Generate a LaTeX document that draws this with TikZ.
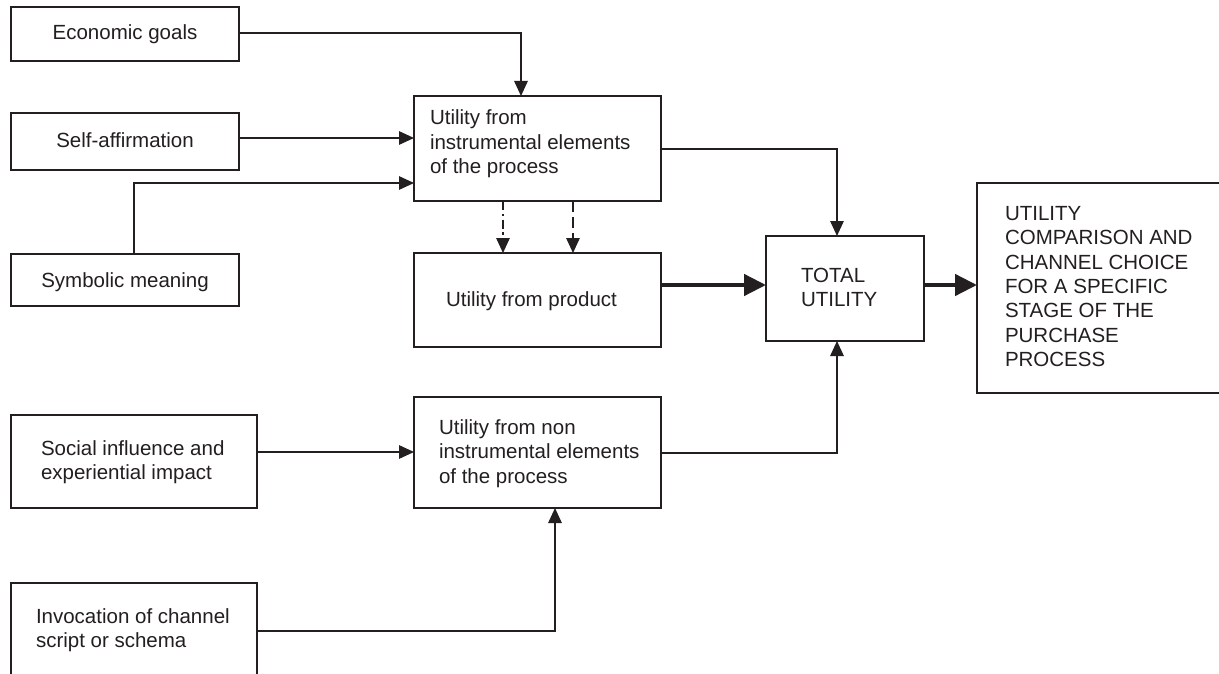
\documentclass[tikz,border=0pt]{standalone}
\usepackage{fontspec}
\setmainfont{Liberation Sans}
\usetikzlibrary{arrows.meta}
\definecolor{ink}{RGB}{35,31,32}
\newcommand{\mylines}[1]{\begin{tabular}[t]{@{}l@{}}#1\end{tabular}}
\begin{document}
\begin{tikzpicture}[x=1pt,y=-1pt,
  every node/.style={inner sep=0pt, outer sep=0pt},
  box/.style={draw=ink, line width=1.4pt, anchor=north west, rectangle},
  txt/.style={text=ink, font=\fontsize{20.5}{24.5}\selectfont},
  arr/.style={draw=ink, line width=1.3pt, -{Triangle[length=15pt,width=13.5pt]}},
  thickarr/.style={draw=ink, line width=4.5pt, -{Triangle[length=22pt,width=21pt]}},
  dashdotline/.style={dash pattern=on 9pt off 3.5pt on 2.5pt off 3.5pt},
  dashline/.style={dash pattern=on 11pt off 5pt}]
\clip (0,0) rectangle (1219,674);
\fill[white] (0,0) rectangle (1219,674);
% boxes
\node[box, minimum width=228pt, minimum height=54pt] (eco) at (11,7) {};
\node[box, minimum width=228pt, minimum height=57pt] (self) at (11,113) {};
\node[box, minimum width=228pt, minimum height=52pt] (sym) at (11,254) {};
\node[box, minimum width=246pt, minimum height=93pt] (soc) at (11,415) {};
\node[box, minimum width=246pt, minimum height=130pt] (inv) at (11,583) {};
\node[box, minimum width=247pt, minimum height=105pt] (inst) at (414,96) {};
\node[box, minimum width=247pt, minimum height=94pt] (prod) at (414,253) {};
\node[box, minimum width=247pt, minimum height=111pt] (non) at (414,397) {};
\node[box, minimum width=158pt, minimum height=105pt] (tot) at (766,236) {};
\node[box, minimum width=280pt, minimum height=210pt] (res) at (977,183) {};
% texts
\node[txt, anchor=base] (ecot) at (125,40) {Economic goals};
\node[txt, anchor=base] (selft) at (125,148) {Self-affirmation};
\node[txt, anchor=base] (symt) at (125,287) {Symbolic meaning};
\node[txt, anchor=base west] (soct) at (41,455) {\mylines{Social influence and\\experiential impact}};
\node[txt, anchor=base west] (invt) at (36,623) {\mylines{Invocation of channel\\script or schema}};
\node[txt, anchor=base west] (instt) at (430,125) {\mylines{Utility from\\instrumental elements\\of the process}};
\node[txt, anchor=base west] (prodt) at (446,306) {Utility from product};
\node[txt, anchor=base west] (nont) at (439,434) {\mylines{Utility from non\\instrumental elements\\of the process}};
\node[txt, anchor=base west] (tott) at (801,282) {\mylines{TOTAL\\UTILITY}};
\node[txt, anchor=base west] (rest) at (1005,220) {\mylines{UTILITY\\COMPARISON AND\\CHANNEL CHOICE\\FOR A SPECIFIC\\STAGE OF THE\\PURCHASE\\PROCESS}};
% connectors
\coordinate (e1) at (521,33);
\draw[arr] (eco.east |- e1) -- (e1) -- (e1 |- inst.north);
\coordinate (s1) at (0,138);
\draw[arr] (self.east |- s1) -- (s1 -| inst.west);
\coordinate (m1) at (134,183);
\draw[arr] (m1 |- sym.north) -- (m1) -- (m1 -| inst.west);
\coordinate (i1) at (837,149);
\draw[arr] (inst.east |- i1) -- (i1) -- (i1 |- tot.north);
\coordinate (d1) at (503,0);
\coordinate (d2) at (573,0);
\draw[arr, dashdotline] (d1 |- inst.south) -- (d1 |- prod.north);
\draw[arr, dashline] (d2 |- inst.south) -- (d2 |- prod.north);
\coordinate (p1) at (0,285);
\draw[thickarr] (prod.east |- p1) -- (p1 -| tot.west);
\draw[thickarr] (tot.east |- p1) -- (p1 -| res.west);
\coordinate (so1) at (0,452);
\draw[arr] (soc.east |- so1) -- (so1 -| non.west);
\coordinate (n1) at (837,453);
\draw[arr] (non.east |- n1) -- (n1) -- (n1 |- tot.south);
\coordinate (v1) at (555,631);
\draw[arr] (inv.east |- v1) -- (v1) -- (v1 |- non.south);
\end{tikzpicture}
\end{document}
